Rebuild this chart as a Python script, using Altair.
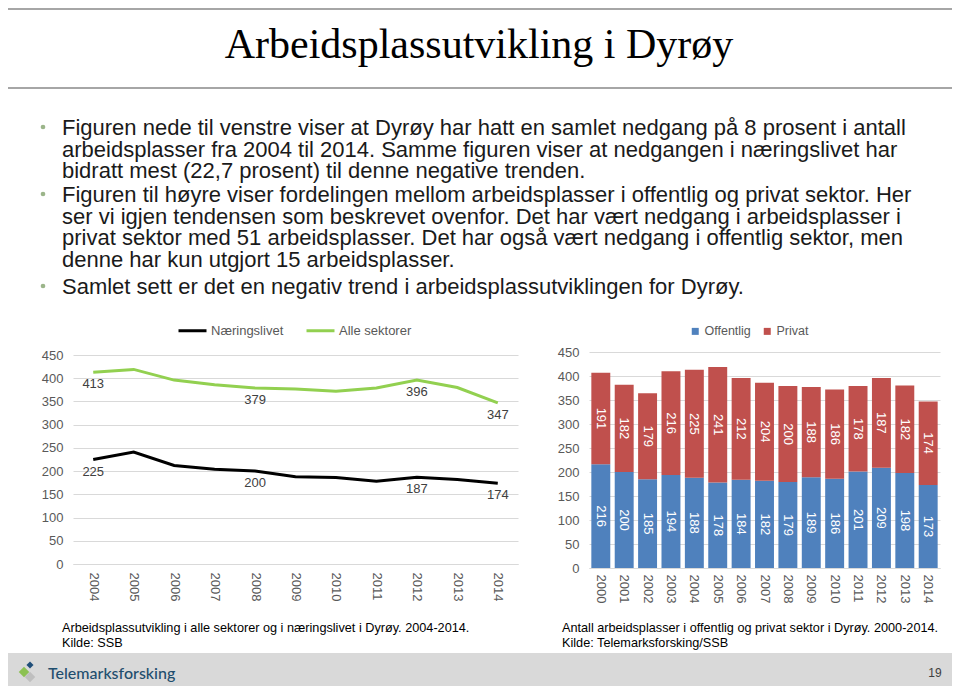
import altair as alt
import pandas as pd

# ---------------- data ----------------
left_years = ["2004", "2005", "2006", "2007", "2008", "2009", "2010", "2011", "2012", "2013", "2014"]
alle_sektorer = [413, 419, 396, 386, 379, 377, 372, 379, 396, 380, 347]
naeringslivet = [225, 241, 212, 204, 200, 188, 186, 178, 187, 182, 174]
left_label_years = ["2004", "2008", "2012", "2014"]
left_series = ["Næringslivet", "Alle sektorer"]

right_years = ["2000", "2001", "2002", "2003", "2004", "2005", "2006", "2007",
               "2008", "2009", "2010", "2011", "2012", "2013", "2014"]
offentlig = [216, 200, 185, 194, 188, 178, 184, 182, 179, 189, 186, 201, 209, 198, 173]
privat = [191, 182, 179, 216, 225, 241, 212, 204, 200, 188, 186, 178, 187, 182, 174]
right_series = ["Offentlig", "Privat"]

y_ticks = [0, 50, 100, 150, 200, 250, 300, 350, 400, 450]

title_text = "Arbeidsplassutvikling i Dyrøy"
bullet_1 = ("Figuren nede til venstre viser at Dyrøy har hatt en samlet nedgang på 8 prosent i antall\n"
            "arbeidsplasser fra 2004 til 2014. Samme figuren viser at nedgangen i næringslivet har\n"
            "bidratt mest (22,7 prosent) til denne negative trenden.")
bullet_2 = ("Figuren til høyre viser fordelingen mellom arbeidsplasser i offentlig og privat sektor. Her\n"
            "ser vi igjen tendensen som beskrevet ovenfor. Det har vært nedgang i arbeidsplasser i\n"
            "privat sektor med 51 arbeidsplasser. Det har også vært nedgang i offentlig sektor, men\n"
            "denne har kun utgjort 15 arbeidsplasser.")
bullet_3 = "Samlet sett er det en negativ trend i arbeidsplassutviklingen for Dyrøy."
caption_left = "Arbeidsplassutvikling i alle sektorer og i næringslivet i Dyrøy. 2004-2014.\nKilde: SSB"
caption_right = "Antall arbeidsplasser i offentlig og privat sektor i Dyrøy. 2000-2014.\nKilde: Telemarksforsking/SSB"
logo_text = "Telemarksforsking"
page_number = "19"

# ---------------- tables ----------------
left_rows = []
for i, yr in enumerate(left_years):
    left_rows.append({"year": yr, "series": left_series[0], "value": naeringslivet[i]})
    left_rows.append({"year": yr, "series": left_series[1], "value": alle_sektorer[i]})
left_df = pd.DataFrame(left_rows)

right_rows = []
for i, yr in enumerate(right_years):
    right_rows.append({"year": yr, "sektor": right_series[0], "value": offentlig[i]})
    right_rows.append({"year": yr, "sektor": right_series[1], "value": privat[i]})
right_df = pd.DataFrame(right_rows)

AX = "#595959"
GRID = "#D9D9D9"
FONT = "Liberation Sans"

# ---------------- left chart ----------------
lx = alt.X("year:O", title=None,
           scale=alt.Scale(type="point", range=[65, 510], padding=0.5),
           axis=alt.Axis(orient="bottom", offset=-122, labelAngle=90, labelPadding=8,
                         labelFontSize=13, labelColor=AX, ticks=False, domainColor=GRID,
                         labelOverlap=False, grid=False))
ly = alt.Y("value:Q", title=None,
           scale=alt.Scale(domain=[0, 450], range=[556, 347], nice=False),
           axis=alt.Axis(orient="left", offset=-65, values=y_ticks, labelPadding=10,
                         labelFontSize=13, labelColor=AX, ticks=False, domain=False,
                         grid=True, gridColor=GRID))

lines = alt.Chart(left_df).mark_line(strokeWidth=3).encode(
    x=lx, y=ly,
    color=alt.Color("series:N",
                    scale=alt.Scale(domain=left_series, range=["#000000", "#92D050"]),
                    legend=alt.Legend(orient="none", legendX=169, legendY=307,
                                      direction="horizontal", title=None,
                                      symbolType="stroke", symbolSize=784,
                                      symbolStrokeWidth=3, labelFontSize=13,
                                      labelColor=AX, labelOffset=3, columnPadding=16,
                                      padding=0)),
)
left_labels = alt.Chart(left_df).transform_filter(
    alt.FieldOneOfPredicate(field="year", oneOf=left_label_years)
).mark_text(dy=12, fontSize=13, color="#404040").encode(x=lx, y=ly, text="value:Q")

left = alt.layer(lines, left_labels)

# ---------------- right chart ----------------
rx = alt.X("year:O", title=None,
           scale=alt.Scale(type="band", range=[581, 932], paddingInner=0.19, paddingOuter=0.1),
           axis=alt.Axis(orient="bottom", offset=-118, labelAngle=90, labelPadding=6,
                         labelFontSize=13, labelColor=AX, ticks=False, domainColor=GRID,
                         labelOverlap=False, grid=False))
rys = alt.Scale(domain=[0, 450], range=[560, 344], nice=False)
ry_axis = alt.Axis(orient="left", offset=-581, values=y_ticks, labelPadding=10,
                   labelFontSize=13, labelColor=AX, ticks=False, domain=False,
                   grid=True, gridColor=GRID)

right_base = alt.Chart(right_df).transform_stack(
    stack="value", groupby=["year"], as_=["y0", "y1"],
    sort=[alt.SortField("sektor", order="ascending")]
).transform_calculate(mid="(datum.y0 + datum.y1) / 2")

bars = right_base.mark_bar().encode(
    x=rx,
    y=alt.Y("y1:Q", title=None, scale=rys, axis=ry_axis),
    y2="y0:Q",
    color=alt.Color("sektor:N",
                    scale=alt.Scale(domain=right_series, range=["#4F81BD", "#C0504D"]),
                    legend=alt.Legend(orient="none", legendX=681, legendY=317,
                                      direction="horizontal", title=None,
                                      symbolType="square", symbolSize=49,
                                      symbolStrokeWidth=0, labelFontSize=12.5,
                                      labelColor=AX, labelOffset=3, columnPadding=10,
                                      padding=0)),
)
right_labels = right_base.mark_text(angle=90, color="white", fontSize=13).encode(
    x=rx, y=alt.Y("mid:Q", title=None, scale=rys, axis=ry_axis), text="value:Q")

right = alt.layer(bars, right_labels)

# ---------------- slide decorations ----------------
one = alt.Data(values=[{}])


def text_layer(content, x, y, **kw):
    return alt.Chart(alt.Data(values=[{"t": content}])).mark_text(**kw).encode(
        x=alt.value(x), y=alt.value(y), text="t:N")


def hrule(y):
    return alt.Chart(one).mark_rule(color="#A6A6A6", strokeWidth=2).encode(
        x=alt.value(0), x2=alt.value(944), y=alt.value(y))


band = alt.Chart(one).mark_rect(color="#D9D9D9").encode(
    x=alt.value(0), x2=alt.value(944), y=alt.value(645), y2=alt.value(678))


def dot(x, y, size, color, shape="circle"):
    return alt.Chart(one).mark_point(shape=shape, filled=True, opacity=1, size=size,
                                     color=color).encode(x=alt.value(x), y=alt.value(y))


body = dict(align="left", baseline="alphabetic", font=FONT, fontSize=22,
            color="#1a1a1a", lineBreak="\n", lineHeight=21.5)
cap = dict(align="left", baseline="alphabetic", font=FONT, fontSize=12.7,
           color="#000000", lineBreak="\n", lineHeight=14.5)

layers = [
    hrule(1), hrule(80),
    text_layer(title_text, 471, 50, align="center", baseline="alphabetic",
               font="Liberation Serif", fontSize=42, color="#000000"),
    dot(35, 119, 22, "#9BB58A"), dot(35, 186, 22, "#9BB58A"), dot(35, 278, 22, "#9BB58A"),
    text_layer(bullet_1, 54, 127, **body),
    text_layer(bullet_2, 54, 194, **body),
    text_layer(bullet_3, 54, 286, **body),
    left, right,
    text_layer(caption_left, 54, 624, **cap),
    text_layer(caption_right, 554, 624, **cap),
    band,
    dot(16, 664, 110, "#8CC152", "diamond"),
    dot(22, 669, 110, "#BFBFBF", "diamond"),
    dot(22, 657, 50, "#1F4E79", "diamond"),
    text_layer(logo_text, 40, 671, align="left", baseline="alphabetic", font="Lato",
               fontSize=16, fontWeight=500, color="#1F4E6E"),
    text_layer(page_number, 927, 669, align="center", baseline="alphabetic", font=FONT,
               fontSize=12, color="#404040"),
]

chart = alt.layer(*layers).resolve_scale(
    x="independent", y="independent", color="independent"
).properties(
    width=944, height=678, padding=0,
    autosize=alt.AutoSizeParams(type="none"),
).configure(font=FONT).configure_view(stroke="transparent")

chart.save("out.html", embed_options={"renderer": "svg", "actions": False})
